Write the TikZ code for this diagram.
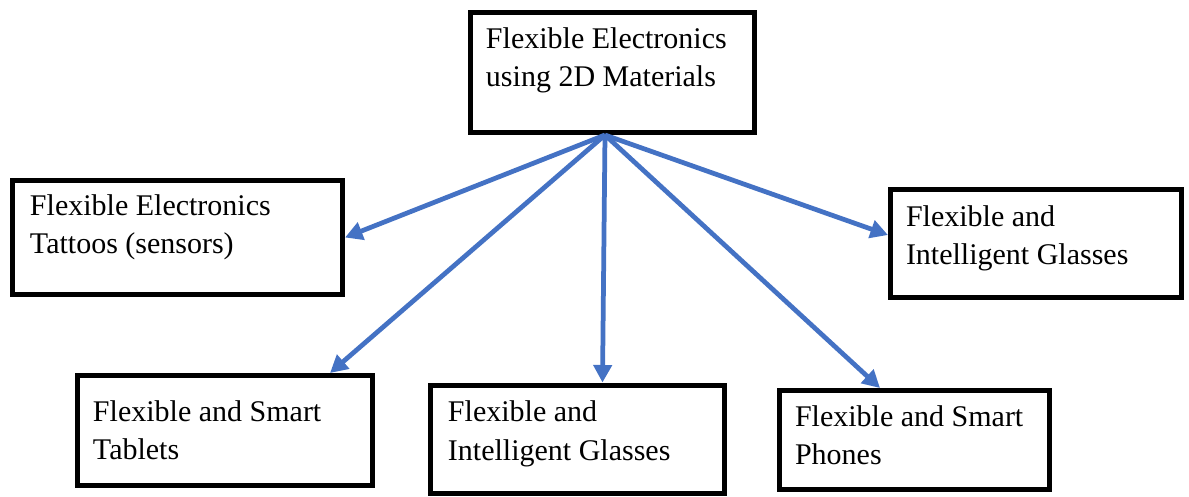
\documentclass[tikz,border=0pt]{standalone}
\usepackage{fontspec}
\setmainfont{LiberationSerif}[Extension=.ttf,UprightFont=*-Regular,BoldFont=*-Bold]
\usetikzlibrary{arrows.meta,positioning}
\definecolor{ink}{HTML}{000000}
\definecolor{wordblue}{HTML}{4472C4}
\tikzset{
  appbox/.style={draw=ink,fill=white,line width=2pt,inner sep=0pt},
  apptext/.style={inner sep=0pt,align=left,text=ink,font=\fontsize{12}{15.3}\selectfont},
  arrow/.style={-{Triangle[length=7pt,width=7.2pt]},line width=1.9pt,draw=wordblue}
}

\begin{document}
\begin{tikzpicture}[x=0.4pt,y=-0.4pt]
    \useasboundingbox (0,0) rectangle (1189,496);
    \node[appbox,minimum width=113.6pt,minimum height=48pt] (top) at (612.5,72.5) {};
    \node[appbox,minimum width=132pt,minimum height=45.6pt] (tattoo) at (177.5,237.5) {};
    \node[appbox,minimum width=116.4pt,minimum height=43.2pt] (glassR) at (1036,243.5) {};
    \node[appbox,minimum width=118pt,minimum height=44pt] (tablets) at (225,430.5) {};
    \node[appbox,minimum width=117.6pt,minimum height=43.2pt] (glassM) at (577.5,439) {};
    \node[appbox,minimum width=108pt,minimum height=39.6pt] (phones) at (914.5,440) {};

    \node[apptext,below right=6.8pt and 7pt of top.north west] (topT) {Flexible Electronics\\using 2D Materials};
    \node[apptext,below right=6.4pt and 7.8pt of tattoo.north west] (tattooT) {Flexible Electronics\\Tattoos (sensors)};
    \node[apptext,below right=7.2pt and 7pt of glassR.north west] (glassRT) {Flexible and\\Intelligent Glasses};
    \node[apptext,below right=10.8pt and 7pt of tablets.north west] (tabletsT) {Flexible and Smart\\Tablets};
    \node[apptext,below right=7.2pt and 7.8pt of glassM.north west] (glassMT) {Flexible and\\Intelligent Glasses};
    \node[apptext,below right=6.8pt and 7pt of phones.north west] (phonesT) {Flexible and Smart\\Phones};

    \coordinate (hub) at ([xshift=-3pt]top.south);
    \draw[arrow] (hub) -- (tattoo.east);
    \draw[arrow] (hub) -- ([xshift=-18pt]tablets.north east);
    \draw[arrow] (hub) -- ([xshift=10pt]glassM.north);
    \draw[arrow] (hub) -- ([xshift=-13.8pt]phones.north);
    \draw[arrow] (hub) -- ([yshift=3.4pt]glassR.west);
  \end{tikzpicture}
\end{document}
